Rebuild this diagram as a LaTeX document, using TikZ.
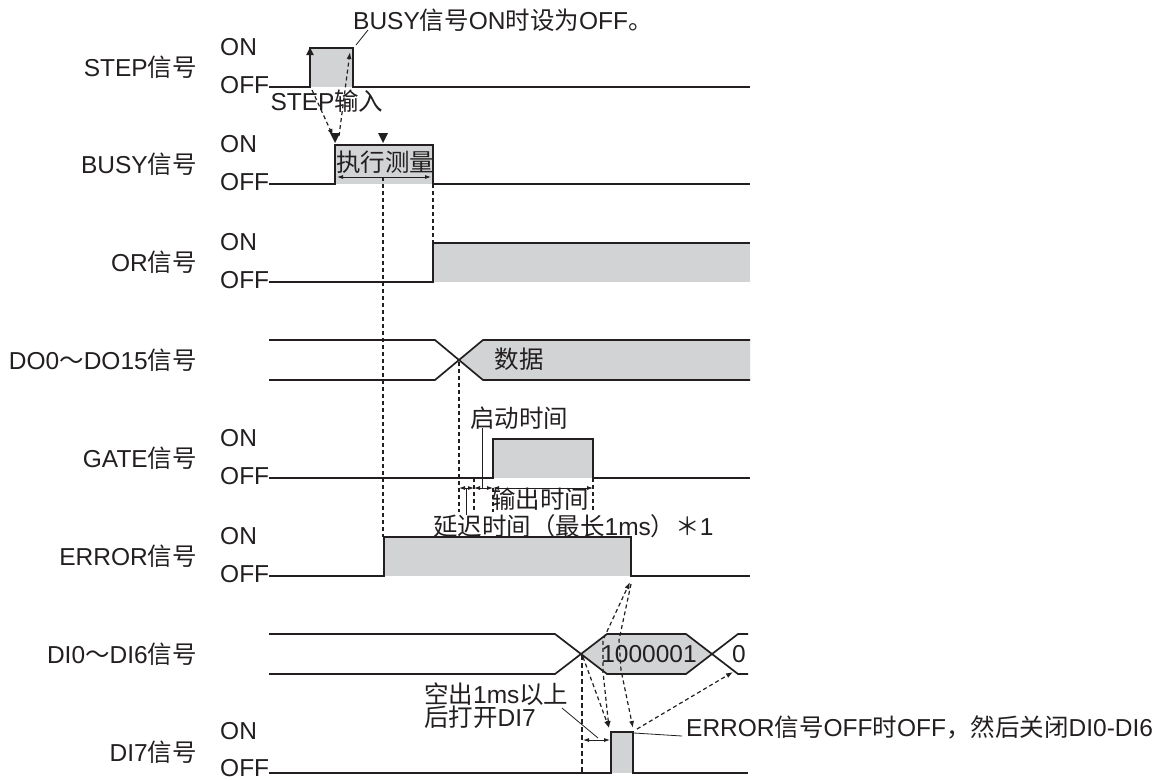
\documentclass[tikz,border=0pt]{standalone}
\usepackage{fontspec}
\setmainfont{Liberation Sans}
\newfontfamily\zhfont{Noto Sans CJK SC}
\newcommand\zh[1]{{\zhfont#1}}
\usetikzlibrary{arrows.meta}
\definecolor{ink}{RGB}{35,31,32}
\definecolor{busygray}{RGB}{210,211,213}
\tikzset{
  wave/.style={line width=1.7pt,draw=ink,line join=miter},
  hint/.style={draw=ink,line width=1.2pt,dash pattern=on 4pt off 3pt},
  tip/.style={-{Latex[length=7pt,width=5pt]}},
  dim/.style={draw=ink,line width=.8pt,{Latex[length=6pt,width=4pt]}-{Latex[length=6pt,width=4pt]}},
  lead/.style={draw=ink,line width=.8pt},
  every node/.style={font=\fontsize{24.5}{26}\selectfont,text=ink,inner sep=0pt}
}
\begin{document}
\begin{tikzpicture}[x=1pt,y=-1pt]
\useasboundingbox (0,0) rectangle (1169,780);
\foreach \m/\name [count=\i] in {67.5/STEP\zh{信号},164.5/BUSY\zh{信号},262.5/OR\zh{信号},360/DO0\zh{～}DO15\zh{信号},
  458.5/GATE\zh{信号},556.5/ERROR\zh{信号},654/DI0\zh{～}DI6\zh{信号},752.5/DI7\zh{信号}}
  \node[anchor=east] (name\i) at (197,\m) {\name};
\foreach \on/\off in {48/87,145/184,243/282,439/478,537/576,732/770}{
  \node[anchor=west] (on\on) at (220,\on-1) {ON};
  \node[anchor=west] (off\off) at (220,\off-2) {OFF};}
\fill[busygray] (310,87) rectangle (353,48);
\fill[busygray] (335,184) rectangle (433,145);
\fill[busygray] (433,282) rectangle (750,243);
\fill[busygray] (459,360) -- (483,340) -- (750,340) -- (750,380) -- (483,380) -- cycle;
\fill[busygray] (493,478) rectangle (593,439);
\fill[busygray] (384,576) rectangle (631,537);
\fill[busygray] (581,654) -- (607,634) -- (686,634) -- (712,654) -- (686,674) -- (607,674) -- cycle;
\fill[busygray] (611,773) rectangle (633,732);
\draw[wave] (269,87) -| (310,48) -| (353,87) -- (750,87);
\draw[wave] (269,184) -| (335,145) -| (433,184) -- (750,184);
\draw[wave] (269,282) -| (433,243) -- (750,243);
\draw[wave] (269,340) -- (435,340) -- (483,380) -- (750,380);
\draw[wave] (269,380) -- (435,380) -- (483,340) -- (750,340);
\draw[wave] (269,478) -| (493,439) -| (593,478) -- (750,478);
\draw[wave] (269,576) -| (384,537) -| (631,576) -- (750,576);
\draw[wave] (269,634) -- (555,634) -- (607,674) -- (686,674) -- (738,634) -- (748,634);
\draw[wave] (269,674) -- (555,674) -- (607,634) -- (686,634) -- (738,674) -- (748,674);
\draw[wave] (269,773) -| (611,732) -| (633,773) -- (748,773);
\coordinate (steprise) at (310,87);
\coordinate (stepfall) at (350,52);
\coordinate (busyrise) at (333,136);
\coordinate (busymid) at (383,177);
\coordinate (busyfall) at (433,184);
\coordinate (orrise) at (433,243);
\coordinate (errrise) at (383,537);
\coordinate (docross) at (459,362);
\coordinate (errfall) at (630,582);
\coordinate (dicross) at (583,657);
\coordinate (di7rise) at (609,728);
\coordinate (di7fall) at (633,728);
\coordinate (direset) at (733,672);
\draw[line width=2.4pt,draw=ink,-{Triangle[length=8pt,width=7pt]}] (steprise) -- (310,47);
\node[anchor=west] (busynote) at (353,20) {BUSY\zh{信号}ON\zh{时设为}OFF\zh{。}};
\draw[lead] (356,45) -- (368,30);
\node (stepin) at (327,101) {STEP\zh{输入}};
\draw[hint,tip] (312,90) -- (busyrise);
\draw[hint,tip] (339,136) -- (stepfall);
\foreach \x in {335,383} \fill[ink] (\x-5,133) -- (\x+5,133) -- (\x,143) -- cycle;
\node (measure) at (385,162) {\zh{执行测量}};
\draw[dim] (337,177) -- (431,177);
\draw[hint] (busymid) -- (errrise);
\draw[hint] (busyfall) -- (orrise);
\node (data) at (519,359) {\zh{数据}};
\draw[hint] (docross) -- (459,512);
\node (startup) at (519,418) {\zh{启动时间}};
\draw[lead] (482,428) -- (482,488);
\draw[dim] (459,488) -- (474,488);
\draw[dim] (474,488) -- (493,488);
\draw[dim] (493,488) -- (593,488);
\draw[hint] (474,478) -- (474,512);
\draw[hint] (493,488) -- (493,512);
\draw[hint] (593,478) -- (593,512);
\draw[lead] (466,488) -- (466,515);
\node (outtime) at (540,499) {\zh{输出时间}};
\node[anchor=west] (delay) at (433,526) {\zh{延迟时间（最长}1ms\zh{）＊}1};
\node (dival) at (649,654) {1000001};
\node (dizero) at (739,654) {0};
\draw[hint,{Latex[length=7pt,width=5pt]}-{Latex[length=7pt,width=5pt]}] (di7rise) -- (603,672) -- (603,640) -- (errfall);
\draw[hint,tip] (631,584) -- (619,640) -- (621,670) -- (di7fall);
\draw[hint,tip] (dicross) -- (di7rise);
\draw[draw=ink,line width=2.2pt,dash pattern=on 5pt off 3pt] (582,655) -- (582,773);
\draw[dim] (583,740) -- (610,740);
\node[anchor=west] (gap1) at (424,694) {\zh{空出}1ms\zh{以上}};
\node[anchor=west] (gap2) at (424,717) {\zh{后打开}DI7};
\draw[lead] (562,708) -- (598,738);
\draw[lead] (634,733) -- (682,736);
\node[anchor=west] (offnote) at (686,727) {ERROR\zh{信号}OFF\zh{时}OFF\zh{，然后关闭}DI0-DI6};
\draw[hint,tip] (637,729) -- (direset);
\end{tikzpicture}
\end{document}
